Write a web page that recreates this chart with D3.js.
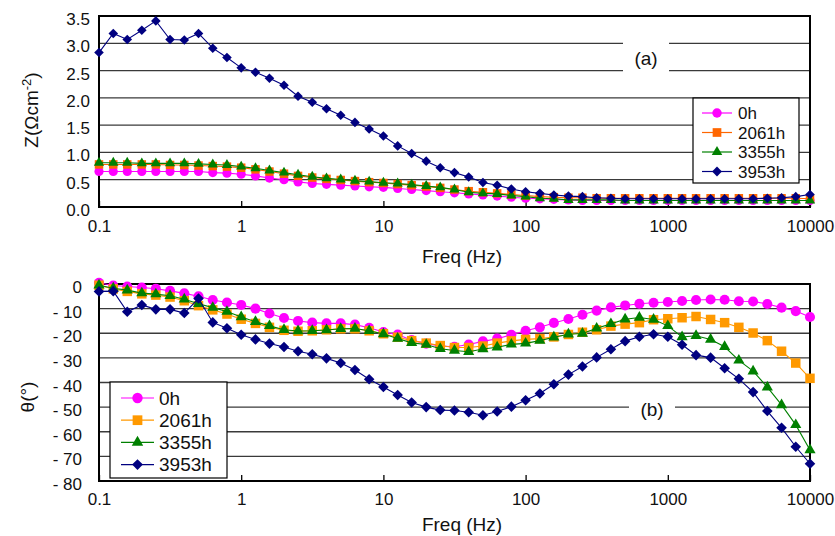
<!DOCTYPE html>
<html>
<head>
<meta charset="utf-8">
<script src="https://cdn.jsdelivr.net/npm/d3@7/dist/d3.min.js"></script>
<style>
  body { margin: 0; background: #fff; }
  text { font-family: Arial, "Liberation Sans", sans-serif; fill: #111; }
</style>
</head>
<body>
<svg id="chart" width="835" height="536"></svg>
<script>
// frequencies (Hz), 10 points per decade
const freq = [0.1, 0.126, 0.158, 0.2, 0.251, 0.316, 0.398, 0.501, 0.631, 0.794,
  1, 1.26, 1.58, 2, 2.51, 3.16, 3.98, 5.01, 6.31, 7.94,
  10, 12.6, 15.8, 20, 25.1, 31.6, 39.8, 50.1, 63.1, 79.4,
  100, 126, 158, 200, 251, 316, 398, 501, 631, 794,
  1000, 1260, 1580, 2000, 2510, 3160, 3980, 5010, 6310, 7940, 10000]

const seriesNames = ["0h", "2061h", "3355h", "3953h"]
const xTicks = [0.1, 1, 10, 100, 1000, 10000]

// (a) impedance Z (ohm cm-2)
const z0h = [0.65, 0.65, 0.65, 0.65, 0.65, 0.65, 0.65, 0.65, 0.63, 0.62,
  0.60, 0.57, 0.53, 0.50, 0.46, 0.43, 0.415, 0.40, 0.385, 0.37,
  0.36, 0.34, 0.32, 0.30, 0.28, 0.26, 0.24, 0.22, 0.20, 0.18,
  0.16, 0.15, 0.14, 0.13, 0.12, 0.12, 0.12, 0.12, 0.12, 0.12,
  0.12, 0.12, 0.12, 0.12, 0.12, 0.12, 0.12, 0.12, 0.12, 0.12, 0.12]
const z2061h = [0.78, 0.78, 0.78, 0.78, 0.78, 0.77, 0.77, 0.76, 0.75, 0.74,
  0.72, 0.69, 0.65, 0.61, 0.57, 0.54, 0.515, 0.495, 0.475, 0.455,
  0.44, 0.42, 0.40, 0.375, 0.35, 0.32, 0.29, 0.27, 0.25, 0.23,
  0.21, 0.19, 0.18, 0.17, 0.17, 0.16, 0.16, 0.16, 0.16, 0.16,
  0.16, 0.16, 0.16, 0.16, 0.16, 0.16, 0.16, 0.16, 0.16, 0.16, 0.15]
const z3355h = [0.81, 0.81, 0.81, 0.80, 0.80, 0.80, 0.80, 0.79, 0.78, 0.77,
  0.74, 0.71, 0.67, 0.63, 0.59, 0.555, 0.525, 0.505, 0.48, 0.465,
  0.445, 0.43, 0.41, 0.385, 0.36, 0.32, 0.27, 0.25, 0.24, 0.21,
  0.19, 0.16, 0.15, 0.13, 0.13, 0.13, 0.13, 0.12, 0.12, 0.12,
  0.12, 0.12, 0.12, 0.12, 0.12, 0.12, 0.12, 0.12, 0.12, 0.12, 0.12]
const z3953h = [2.83, 3.18, 3.07, 3.24, 3.41, 3.07, 3.06, 3.18, 2.91, 2.74,
  2.55, 2.47, 2.36, 2.23, 2.03, 1.92, 1.80, 1.68, 1.55, 1.43,
  1.30, 1.12, 0.98, 0.84, 0.72, 0.63, 0.55, 0.45, 0.40, 0.33,
  0.28, 0.25, 0.22, 0.20, 0.19, 0.17, 0.16, 0.15, 0.15, 0.15,
  0.15, 0.15, 0.15, 0.15, 0.15, 0.15, 0.15, 0.16, 0.17, 0.19, 0.23]

// (b) phase angle (degrees)
const th0h = [0.5, -0.6, -1, -1.4, -1.9, -2.8, -3.8, -5, -6.5, -7.5,
  -8.5, -10, -12, -13.8, -15, -15.7, -16, -16, -16.5, -17.8,
  -19.5, -20.5, -22.8, -24.2, -25.2, -25.5, -24.6, -23.3, -22.2, -20.6,
  -19, -17.6, -15.8, -14.2, -12.5, -10.8, -9.5, -8.7, -8, -7.6,
  -7.3, -6.9, -6.5, -6.3, -6.4, -7, -7.1, -8.1, -9.6, -11, -13.4]
const th2061h = [-0.5, -2, -3, -4, -4.5, -5.3, -6.8, -8.8, -10.5, -12.2,
  -14.3, -16, -17.6, -18.8, -19.2, -19, -18.6, -18.2, -18.2, -19,
  -20.2, -21.6, -23, -24, -25, -25.8, -25.8, -25.2, -24, -23.1,
  -22.5, -22.2, -21.5, -20.5, -19.6, -18.6, -17.1, -16.3, -15.7, -14.5,
  -14.1, -13.7, -13.2, -14.4, -15.7, -17.6, -19.9, -23, -27.3, -32.1, -38.3]
const th3355h = [-0.5, -1.7, -2.5, -3.7, -4.1, -4.8, -6.2, -8, -9.6, -11.2,
  -13.4, -15.3, -17, -18.6, -19.1, -19, -18.7, -18.2, -18.1, -19,
  -20.3, -22.1, -23.9, -24.6, -26.3, -27, -27.5, -26.4, -25.7, -24.5,
  -24.1, -23, -21.6, -20.4, -20.1, -18, -16.2, -14.3, -13.6, -14.4,
  -17, -21.5, -21, -22.5, -25.5, -31, -35.4, -41.9, -49.1, -57.2, -67.4]
const th3953h = [-3, -2.9, -11.3, -8.5, -10.3, -10.3, -11.8, -5.9, -15.6, -18,
  -20.6, -22.5, -24.2, -25.6, -27.3, -28.5, -30.2, -32.1, -34.9, -38.7,
  -41.8, -45.1, -48.1, -50, -51.2, -51.4, -52.1, -53.3, -51.8, -49.8,
  -47.2, -44.5, -40.7, -36.8, -33.5, -29.8, -26.5, -23.2, -21.4, -20.4,
  -21.4, -24.7, -28.9, -29.9, -34.2, -38.5, -43.9, -51.6, -58.4, -66.1, -73]

const zTicks = [0, 0.5, 1, 1.5, 2, 2.5, 3, 3.5]
const thTicks = [0, -10, -20, -30, -40, -50, -60, -70, -80]

const svg = d3.select("#chart")
svg.append("rect").attr("width", 835).attr("height", 536).attr("fill", "#fff")

const symbols = [d3.symbolCircle, d3.symbolSquare, d3.symbolTriangle, d3.symbolSquare]
const lineColors = ["#ff00ff", null, "#008000", "#000080"]

function drawPanel(p) {
  const x = d3.scaleLog().domain([0.1, 10000]).range([p.left, p.right])
  const y = d3.scaleLinear().domain(p.yDomain).range([p.bottom, p.top])
  const g = svg.append("g")

  // grid
  g.selectAll(".grid")
    .data(p.yTicks.filter(d => d !== p.yDomain[0] && d !== p.yDomain[1]))
    .join("line")
    .attr("x1", p.left).attr("x2", p.right)
    .attr("y1", d => y(d)).attr("y2", d => y(d))
    .attr("stroke", "#3a3a3a").attr("stroke-width", 1.3)

  // label box that breaks the gridlines
  g.append("rect")
    .attr("x", p.tag.x - 23).attr("y", p.tag.y - p.tag.h / 2)
    .attr("width", 46).attr("height", p.tag.h).attr("fill", "#fff")
  g.append("text")
    .attr("x", p.tag.x).attr("y", p.tag.y).attr("dy", "0.35em")
    .attr("text-anchor", "middle").attr("font-size", 19)
    .text(p.tag.text)

  // x axis
  const xAxis = d3.axisBottom(x)
    .tickValues(xTicks)
    .tickSize(-6)
    .tickPadding(p.xPad)
    .tickFormat(d => String(d))
  const ax = g.append("g").attr("transform", `translate(0,${p.bottom})`).call(xAxis)
  ax.select(".domain").remove()
  ax.selectAll("line").attr("stroke", "#000").attr("stroke-width", 1.3)
  ax.selectAll("text").attr("font-size", 17).attr("font-family", "Arial, 'Liberation Sans', sans-serif").attr("fill", "#111")

  // y labels
  const yAxis = d3.axisLeft(y)
    .tickValues(p.yTicks)
    .tickSize(0)
    .tickPadding(p.yPad)
    .tickFormat(p.yFormat)
  const ay = g.append("g").attr("transform", `translate(${p.left},0)`).call(yAxis)
  ay.select(".domain").remove()
  ay.selectAll("text").attr("font-size", 17).attr("font-family", "Arial, 'Liberation Sans', sans-serif")
    .attr("fill", "#111").attr("dy", "0.5em")

  // frame
  g.append("rect")
    .attr("x", p.left).attr("y", p.top)
    .attr("width", p.right - p.left).attr("height", p.bottom - p.top)
    .attr("fill", "none").attr("stroke", "#000").attr("stroke-width", 2)

  // series
  const line = d3.line().x((d, i) => x(freq[i])).y(d => y(d))
  p.series.forEach((vals, k) => {
    const col = k === 1 ? p.orange : lineColors[k]
    g.append("path").datum(vals)
      .attr("d", line).attr("fill", "none")
      .attr("stroke", col).attr("stroke-width", 1.1)
    const sym = d3.symbol().type(symbols[k]).size(p.sizes[k])
    g.selectAll(`.m${k}`).data(vals).join("path")
      .attr("d", sym)
      .attr("transform", (d, i) => `translate(${x(freq[i])},${y(d)})` + (k === 3 ? " rotate(45)" : ""))
      .attr("fill", col)
  })

  // legend
  const L = p.legend
  g.append("rect").attr("x", L.x).attr("y", L.y).attr("width", L.w).attr("height", L.h)
    .attr("fill", "#fff").attr("stroke", "#000").attr("stroke-width", 1.2)
  seriesNames.forEach((name, k) => {
    const col = k === 1 ? p.orange : lineColors[k]
    const ry = L.y + L.first + k * L.step
    g.append("line").attr("x1", L.x + L.l1).attr("x2", L.x + L.l2)
      .attr("y1", ry).attr("y2", ry).attr("stroke", col).attr("stroke-width", 1.2)
    g.append("path")
      .attr("d", d3.symbol().type(symbols[k]).size(p.sizes[k] * 1.05)())
      .attr("transform", `translate(${L.x + (L.l1 + L.l2) / 2},${ry})` + (k === 3 ? " rotate(45)" : ""))
      .attr("fill", col)
    g.append("text").attr("x", L.x + L.tx).attr("y", ry).attr("dy", "0.36em")
      .attr("font-size", L.fs).text(name)
  })

  // titles
  g.append("text").attr("x", 462).attr("y", p.xTitleY).attr("dy", "0.35em")
    .attr("text-anchor", "middle").attr("font-size", 19).text("Freq (Hz)")
  p.yTitle(g)
}

drawPanel({
  left: 99, right: 810, top: 16, bottom: 207,
  yDomain: [0, 3.5], yTicks: zTicks, yFormat: d3.format(".1f"),
  xPad: 13, yPad: 9, xTitleY: 256,
  orange: "#ff6600",
  sizes: [66, 72, 46, 46],
  series: [z0h, z2061h, z3355h, z3953h],
  tag: { x: 646, y: 58, h: 40, text: "(a)" },
  legend: { x: 693, y: 98, w: 106, h: 85, first: 15, step: 19.5, l1: 9, l2: 39, tx: 45, fs: 17 },
  yTitle: g => {
    const t = g.append("text").attr("transform", "translate(38,110) rotate(-90)")
      .attr("text-anchor", "middle").attr("font-size", 19)
    t.append("tspan").text("Z(Ωcm")
    t.append("tspan").attr("dy", -7).attr("font-size", 13).text("-2")
    t.append("tspan").attr("dy", 7).text(")")
  }
})

drawPanel({
  left: 99, right: 810, top: 284, bottom: 481,
  yDomain: [-80, 0], yTicks: thTicks, yFormat: d => d === 0 ? "0" : "- " + Math.abs(d),
  xPad: 12, yPad: 17, xTitleY: 524,
  orange: "#ff9900",
  sizes: [80, 90, 54, 56],
  series: [th0h, th2061h, th3355h, th3953h],
  tag: { x: 652, y: 409, h: 34, text: "(b)" },
  legend: { x: 110, y: 382, w: 117, h: 96, first: 16, step: 22.2, l1: 11, l2: 44, tx: 49, fs: 19 },
  yTitle: g => {
    g.append("text").attr("transform", "translate(34,397) rotate(-90)")
      .attr("text-anchor", "middle").attr("font-size", 19).text("θ(°)")
  }
})
</script>
</body>
</html>
